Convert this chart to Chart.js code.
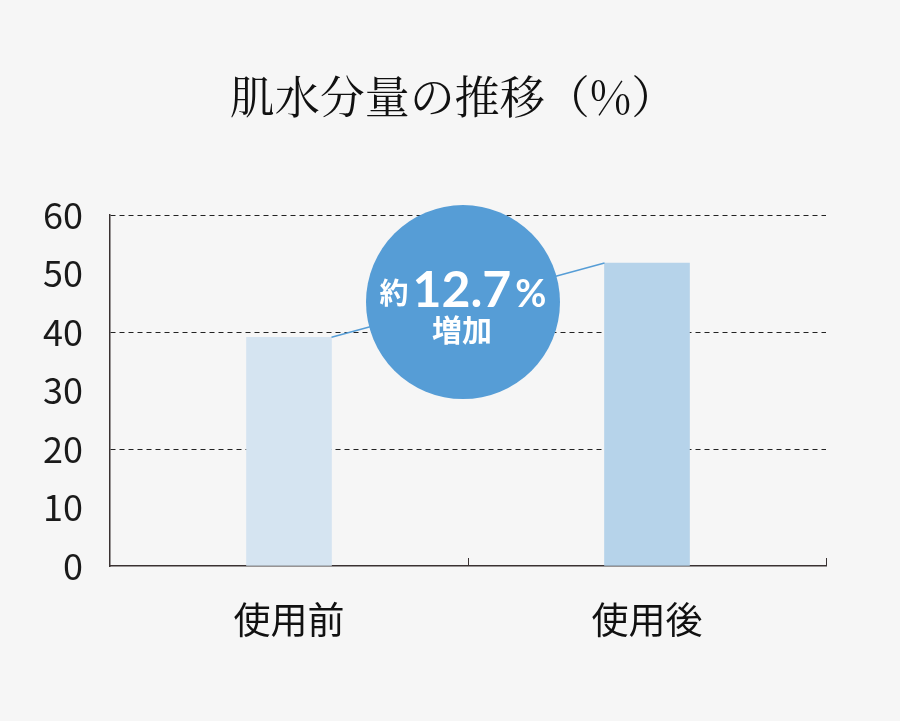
<!DOCTYPE html>
<html lang="ja">
<head>
<meta charset="utf-8">
<script src="https://cdn.jsdelivr.net/npm/chart.js@4.4.1/dist/chart.umd.min.js"></script>
<style>
  html, body { margin: 0; padding: 0; background: #f6f6f6; }
  #wrap { width: 900px; height: 721px; }
</style>
</head>
<body>
<div id="wrap"><canvas id="waterChart" width="900" height="721"></canvas></div>
<script>
// データ
const categories = ['使用前', '使用後'];
const moisture = [39.1, 51.8];
const barColors = ['#d5e4f1', '#b6d3ea'];
const yTicks = [0, 10, 20, 30, 40, 50, 60];
const gridValues = [20, 40, 60];
const chartTitle = '肌水分量の推移（%）';
const bubbleLines = ['約', '12.7', '%', '増加'];

// タイトル（中央寄せ）
const titlePlugin = {
    id: 'pageTitle',
    afterDraw(chart) {
        const ctx = chart.ctx;
        ctx.save();
        ctx.fillStyle = '#111111';
        ctx.font = '45px "Noto Serif CJK JP", "Liberation Serif", serif';
        ctx.textAlign = 'center';
        ctx.textBaseline = 'middle';
        ctx.fillText(chartTitle, 453, 97);
        ctx.restore();
    }
};

// 吹き出し（円）と接続線
const bubblePlugin = {
    id: 'bubble',
    afterDatasetsDraw(chart) {
        const ctx = chart.ctx;
        const bars = chart.getDatasetMeta(0).data;
        const b1 = bars[0], b2 = bars[1];
        const x1 = b1.x + b1.width / 2, y1 = b1.y;
        const x2 = b2.x - b2.width / 2, y2 = b2.y;

        ctx.save();
        ctx.strokeStyle = '#569dd6';
        ctx.lineWidth = 1.5;
        ctx.beginPath();
        ctx.moveTo(x1, y1);
        ctx.lineTo(x2, y2);
        ctx.stroke();

        const cx = (x1 + x2) / 2 - 5;
        const cy = (y1 + y2) / 2 + 2;
        ctx.fillStyle = '#569dd6';
        ctx.beginPath();
        ctx.arc(cx, cy, 97, 0, Math.PI * 2);
        ctx.fill();

        ctx.fillStyle = '#ffffff';
        ctx.textBaseline = 'alphabetic';
        // 約 12.7 %
        ctx.font = 'bold 29px "Noto Sans CJK JP"';
        const wA = ctx.measureText(bubbleLines[0]).width;
        ctx.font = 'bold 50px Lato';
        const wB = ctx.measureText(bubbleLines[1]).width;
        ctx.font = 'bold 38px Lato';
        const wC = ctx.measureText(bubbleLines[2]).width;
        const gap = 4;
        let x = cx - (wA + wB + wC + gap * 2) / 2;
        const base = cy + 5;
        ctx.textAlign = 'left';
        ctx.font = 'bold 29px "Noto Sans CJK JP"';
        ctx.fillText(bubbleLines[0], x, base - 3);
        x += wA + gap;
        ctx.font = 'bold 50px Lato';
        ctx.fillText(bubbleLines[1], x, base);
        x += wB + gap;
        ctx.font = 'bold 38px Lato';
        ctx.fillText(bubbleLines[2], x, base);

        ctx.textAlign = 'center';
        ctx.font = 'bold 30px "Noto Sans CJK JP"';
        ctx.fillText(bubbleLines[3], cx - 1, cy + 39);
        ctx.restore();
    }
};

// x軸の区切り目盛り（上向き）
const xTickPlugin = {
    id: 'xTicks',
    afterDraw(chart) {
        const ctx = chart.ctx;
        const xs = chart.scales.x;
        const area = chart.chartArea;
        const p0 = xs.getPixelForValue(0), p1 = xs.getPixelForValue(1);
        const marks = [(p0 + p1) / 2, area.right];
        ctx.save();
        ctx.strokeStyle = '#3a3232';
        ctx.lineWidth = 1;
        marks.forEach(function(mx) {
            ctx.beginPath();
            ctx.moveTo(Math.round(mx) + 0.5, area.bottom);
            ctx.lineTo(Math.round(mx) + 0.5, area.bottom - 8);
            ctx.stroke();
        });
        ctx.restore();
    }
};

const bgPlugin = {
    id: 'bg',
    beforeDraw(chart) {
        const ctx = chart.ctx;
        ctx.save();
        ctx.fillStyle = '#f6f6f6';
        ctx.fillRect(0, 0, chart.width, chart.height);
        ctx.restore();
    }
};

const data = {
    labels: categories,
    datasets: [{
        data: moisture,
        backgroundColor: barColors,
        barThickness: 85,
        borderWidth: 0
    }]
};

const config = {
    type: 'bar',
    data: data,
    options: {
        responsive: false,
        animation: false,
        layout: { padding: { left: 0, right: 74, top: 215, bottom: 0 } },
        plugins: {
            legend: { display: false },
            tooltip: { enabled: false },
            title: { display: false }
        },
        scales: {
            y: {
                min: 0,
                max: 60,
                afterBuildTicks(scale) {
                    scale.ticks = yTicks.map(v => ({ value: v }));
                },
                afterFit(scale) { scale.width = 110; },
                ticks: {
                    color: '#1a1a1a',
                    font: { family: '"Noto Sans CJK JP"', size: 36 },
                    padding: 27
                },
                grid: {
                    drawTicks: false,
                    lineWidth: 1,
                    color: function(c) {
                        return gridValues.includes(c.tick.value) ? '#222222' : 'rgba(0,0,0,0)';
                    }
                },
                border: { display: true, color: '#3a3232', width: 1.5, dash: [5, 4] }
            },
            x: {
                afterFit(scale) { scale.height = 155; },
                ticks: {
                    color: '#111111',
                    font: { family: '"Noto Sans CJK JP"', size: 37 },
                    padding: 32
                },
                grid: { display: false, drawTicks: false },
                border: { display: true, color: '#3a3232', width: 1.5 }
            }
        }
    },
    plugins: [bgPlugin, bubblePlugin, xTickPlugin, titlePlugin]
};

const waterChart = new Chart(document.getElementById('waterChart').getContext('2d'), config);
</script>
</body>
</html>
